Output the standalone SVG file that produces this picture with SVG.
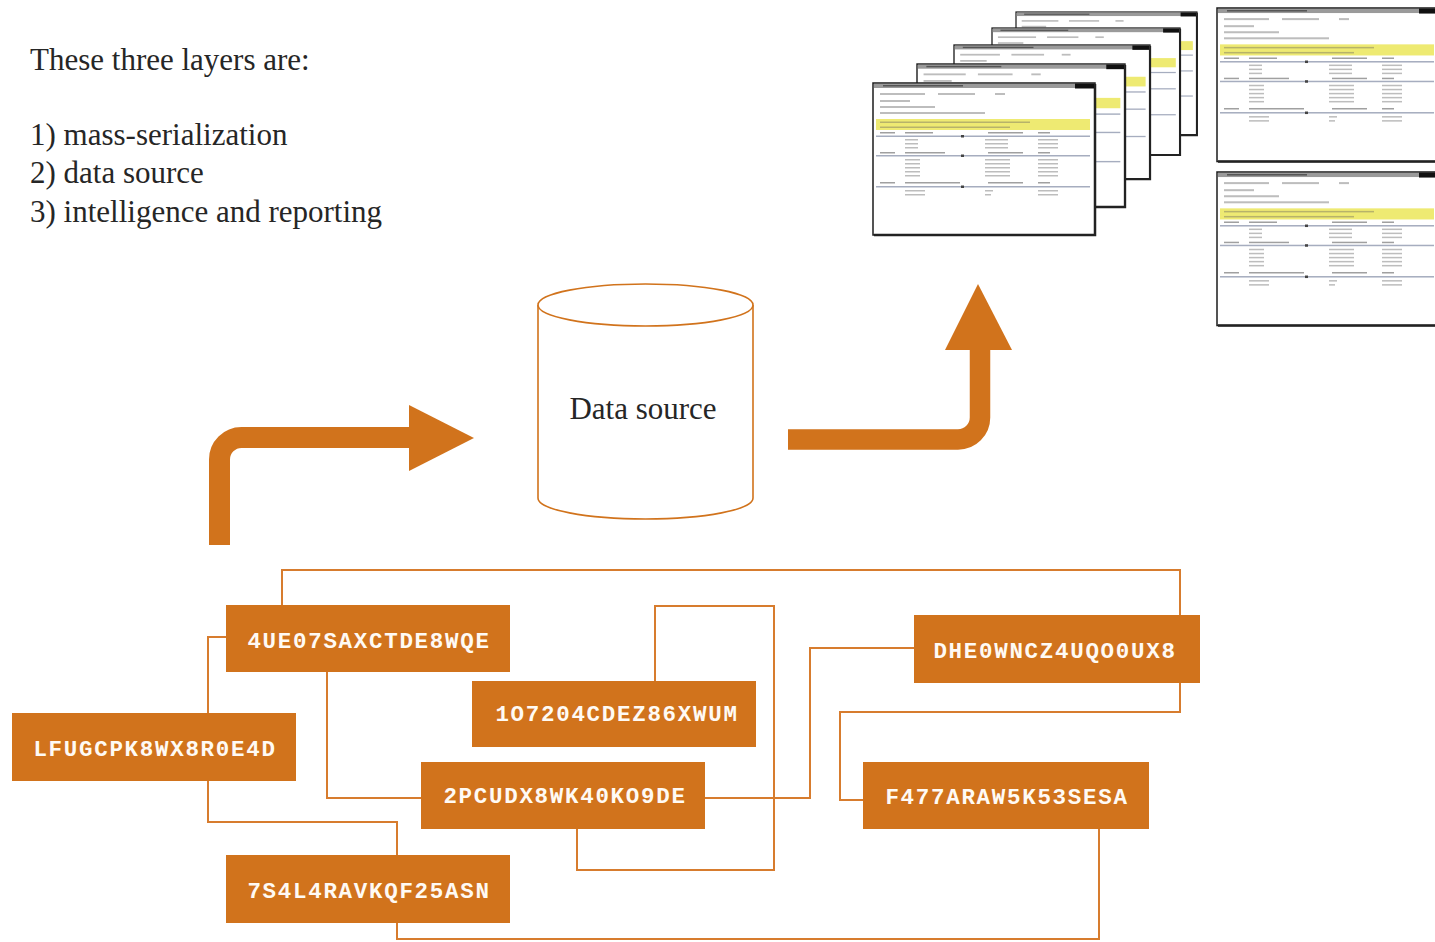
<svg xmlns="http://www.w3.org/2000/svg" xmlns:xlink="http://www.w3.org/1999/xlink" width="1435" height="942" viewBox="0 0 1435 942">
<style>
.hdr{font-family:"Liberation Serif","Times New Roman",serif;font-size:31px;fill:#262626}
.node rect{fill:#D1731C}
.node text{font-family:"Liberation Mono","Courier New",monospace;font-weight:bold;font-size:22.5px;letter-spacing:1.7px;fill:#fffaf4;text-anchor:middle}
.conn polyline{fill:none;stroke:#D77C2E;stroke-width:2}
.big{fill:none;stroke:#D1731C;stroke-width:21}
.head{fill:#D1731C}
.tx{fill:#bdbdbd}
.tk{fill:#a0a0a0}
.sep{fill:#a6adbf}
</style>
<defs>
<g id="rep">
<rect x="0" y="0" width="222" height="152" fill="#ffffff" stroke="#1c1c1c" stroke-width="1.5"/>
<path d="M222 1 V152 H1" fill="none" stroke="#222" stroke-width="2.5"/>
<rect x="1" y="1" width="220" height="4" fill="#9a9a9a"/>
<rect x="10" y="2" width="80" height="1.5" fill="#555"/>
<rect x="202" y="0.5" width="19" height="5" fill="#111"/>
<rect class="tx" x="7" y="10" width="45" height="2"/>
<rect class="tx" x="65" y="10" width="37" height="2"/>
<rect class="tx" x="122" y="10" width="10" height="2"/>
<rect class="tx" x="7" y="17" width="30" height="2"/>
<rect class="tx" x="7" y="23" width="55" height="2"/>
<rect class="tx" x="7" y="29" width="105" height="2"/>
<rect x="3" y="36" width="214" height="11" fill="#eeea72"/>
<rect x="7" y="38.5" width="150" height="1.5" fill="#b7b36a"/>
<rect x="7" y="43.5" width="130" height="1.5" fill="#b7b36a"/>
<rect class="tk" x="7" y="49" width="15" height="1.5"/>
<rect class="tk" x="32" y="49" width="28" height="1.5"/>
<rect class="tk" x="115" y="49" width="35" height="1.5"/>
<rect class="tk" x="165" y="49" width="12" height="1.5"/>
<rect class="sep" x="3" y="52.5" width="214" height="1.5"/>
<rect x="88" y="52" width="3" height="2.5" fill="#444"/>
<g class="tx">
<rect x="32" y="56" width="13" height="1.5"/><rect x="112" y="56" width="23" height="1.5"/><rect x="165" y="56" width="20" height="1.5"/>
<rect x="32" y="60" width="13" height="1.5"/><rect x="112" y="60" width="23" height="1.5"/><rect x="165" y="60" width="20" height="1.5"/>
<rect x="32" y="64" width="13" height="1.5"/><rect x="112" y="64" width="23" height="1.5"/><rect x="165" y="64" width="20" height="1.5"/>
</g>
<rect class="tk" x="7" y="69" width="15" height="1.5"/>
<rect class="tk" x="32" y="69" width="40" height="1.5"/>
<rect class="tk" x="115" y="69" width="35" height="1.5"/>
<rect class="tk" x="165" y="69" width="12" height="1.5"/>
<rect class="sep" x="3" y="72" width="214" height="1.5"/>
<rect x="88" y="71.5" width="3" height="2.5" fill="#444"/>
<g class="tx">
<rect x="32" y="76" width="15" height="1.5"/><rect x="112" y="76" width="25" height="1.5"/><rect x="165" y="76" width="20" height="1.5"/>
<rect x="32" y="80" width="15" height="1.5"/><rect x="112" y="80" width="25" height="1.5"/><rect x="165" y="80" width="20" height="1.5"/>
<rect x="32" y="84" width="15" height="1.5"/><rect x="112" y="84" width="25" height="1.5"/><rect x="165" y="84" width="20" height="1.5"/>
<rect x="32" y="88" width="15" height="1.5"/><rect x="112" y="88" width="25" height="1.5"/><rect x="165" y="88" width="20" height="1.5"/>
<rect x="32" y="92" width="15" height="1.5"/><rect x="112" y="92" width="25" height="1.5"/><rect x="165" y="92" width="20" height="1.5"/>
</g>
<rect class="tk" x="7" y="99" width="15" height="1.5"/>
<rect class="tk" x="32" y="99" width="55" height="1.5"/>
<rect class="tk" x="115" y="99" width="35" height="1.5"/>
<rect class="tk" x="165" y="99" width="12" height="1.5"/>
<rect class="sep" x="3" y="103" width="214" height="1.5"/>
<rect x="88" y="102.5" width="3" height="2.5" fill="#444"/>
<g class="tx">
<rect x="32" y="107" width="20" height="1.5"/><rect x="112" y="107" width="8" height="1.5"/><rect x="165" y="107" width="20" height="1.5"/>
<rect x="32" y="111" width="20" height="1.5"/><rect x="112" y="111" width="6" height="1.5"/><rect x="165" y="111" width="20" height="1.5"/>
</g>
</g>
</defs>
<rect width="1435" height="942" fill="#ffffff"/>
<g id="intro">
<text class="hdr" x="30" y="70">These three layers are:</text>
<text class="hdr" x="30" y="145">1) mass-serialization</text>
<text class="hdr" x="30" y="183">2) data source</text>
<text class="hdr" x="30" y="222">3) intelligence and reporting</text>
</g>
<g id="reports">
<use xlink:href="#rep" href="#rep" transform="translate(1016,12) scale(0.815,0.81)"/>
<use xlink:href="#rep" href="#rep" transform="translate(992,28) scale(0.847,0.836)"/>
<use xlink:href="#rep" href="#rep" transform="translate(954,45) scale(0.883,0.882)"/>
<use xlink:href="#rep" href="#rep" transform="translate(917,64) scale(0.937,0.941)"/>
<use xlink:href="#rep" href="#rep" transform="translate(873,83)"/>
<use xlink:href="#rep" href="#rep" transform="translate(1217,8) scale(1,1.01)"/>
<use xlink:href="#rep" href="#rep" transform="translate(1217,172) scale(1,1.01)"/>
</g>
<g id="arrows">
<path class="big" d="M219.5 545 V459.5 A22 22 0 0 1 241.5 437.5 H410"/>
<polygon class="head" points="409,405 474,438 409,471"/>
<path class="big" d="M788 439.5 H958 A22 22 0 0 0 980 417.5 V348" style="stroke-width:20.5"/>
<polygon class="head" points="945,350 1012,350 978,284"/>
</g>
<g id="datasource">
<path d="M538 305 V498 A107.5 21 0 0 0 753 498 V305" fill="#ffffff" stroke="#D1731C" stroke-width="1.6"/>
<ellipse cx="645.5" cy="305" rx="107.5" ry="21" fill="#ffffff" stroke="#D1731C" stroke-width="1.6"/>
<text x="643" y="419" style="font-family:'Liberation Serif','Times New Roman',serif;font-size:31px;fill:#262626;text-anchor:middle">Data source</text>
</g>
<g id="connectors" class="conn">
<polyline points="282,605 282,570 1180,570 1180,615"/>
<polyline points="226,637 208,637 208,713"/>
<polyline points="208,781 208,822 397,822 397,855"/>
<polyline points="327,672 327,798 421,798"/>
<polyline points="655,681 655,606 774,606 774,870 577,870 577,829"/>
<polyline points="705,798 810,798 810,648 914,648"/>
<polyline points="1180,683 1180,712 840,712 840,800 863,800"/>
<polyline points="1099,829 1099,939 397,939 397,923"/>
</g>
<g id="n1" class="node"><rect x="226" y="605" width="284" height="67"/><text x="369" y="648">4UE07SAXCTDE8WQE</text></g>
<g id="n2" class="node"><rect x="12" y="713" width="284" height="68"/><text x="155" y="756">LFUGCPK8WX8R0E4D</text></g>
<g id="n3" class="node"><rect x="226" y="855" width="284" height="68"/><text x="369" y="898">7S4L4RAVKQF25ASN</text></g>
<g id="n4" class="node"><rect x="472" y="681" width="284" height="66"/><text x="617" y="721">1O7204CDEZ86XWUM</text></g>
<g id="n5" class="node"><rect x="421" y="762" width="284" height="67"/><text x="565" y="803">2PCUDX8WK40KO9DE</text></g>
<g id="n6" class="node"><rect x="914" y="615" width="286" height="68"/><text x="1055" y="658">DHE0WNCZ4UQO0UX8</text></g>
<g id="n7" class="node"><rect x="863" y="762" width="286" height="67"/><text x="1007" y="804">F477ARAW5K53SESA</text></g>
</svg>
